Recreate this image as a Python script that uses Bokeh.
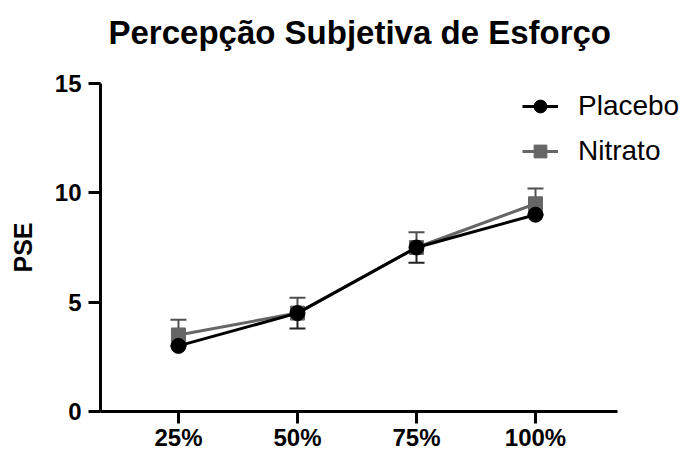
from bokeh.plotting import figure
from bokeh.models import (FixedTicker, Range1d, Legend, LegendItem, Whisker,
                          ColumnDataSource, TeeHead, Title)
from bokeh.embed import file_html
from bokeh.resources import INLINE

# Intensity stages and the perceived-exertion means per condition
stages = ["25%", "50%", "75%", "100%"]
placebo = [3.0, 4.5, 7.5, 9.0]
nitrato = [3.5, 4.5, 7.5, 9.5]
# error bars: nitrato drawn upward, placebo downward
nitrato_sd = [0.7, 0.7, 0.7, 0.7]
placebo_sd = [0.0, 0.7, 0.7, 0.0]

x = list(range(1, len(stages) + 1))

# the frame runs to the right edge so the legend has room; the x axis line
# itself stops short of it through its bounds
x_start, x_axis_end, x_end = 0.345, 4.69, 5.235

p = figure(width=682, height=453, output_backend="svg", toolbar_location=None,
           x_range=Range1d(x_start, x_end), y_range=Range1d(0, 15),
           min_border_left=100, min_border_right=0,
           min_border_top=83, min_border_bottom=40, title_location=None)

# an empty strip between the frame and the heading keeps the heading high
gap = Title(text=" ", text_font_size="1px", standoff=30)
heading = Title(text="Percepção Subjetiva de Esforço", align="left", offset=8,
                standoff=0, text_font="Liberation Sans", text_font_size="33px",
                text_font_style="bold", text_color="black")
p.add_layout(gap, "above")
p.add_layout(heading, "above")

p.outline_line_color = None
p.grid.visible = False
p.background_fill_color = "white"
p.border_fill_color = "white"

for ax in (p.xaxis[0], p.yaxis[0]):
    ax.axis_line_width = 3
    ax.axis_line_color = "black"
    ax.major_tick_line_width = 3
    ax.major_tick_line_color = "black"
    ax.major_tick_out = 12
    ax.major_tick_in = 0
    ax.minor_tick_line_color = None
    ax.major_label_text_font = "Liberation Sans"
    ax.major_label_text_font_size = "24px"
    ax.major_label_text_font_style = "bold"
    ax.major_label_text_color = "black"
    ax.major_label_standoff = 7

p.xaxis.major_label_standoff = 0
p.xaxis.bounds = (x_start, x_axis_end)
p.xaxis.ticker = FixedTicker(ticks=x)
p.xaxis.major_label_overrides = {xi: s for xi, s in zip(x, stages)}
p.yaxis.ticker = FixedTicker(ticks=[0, 5, 10, 15])

p.yaxis.axis_label = "PSE"
p.yaxis.axis_label_text_font = "Liberation Sans"
p.yaxis.axis_label_text_font_size = "25px"
p.yaxis.axis_label_text_font_style = "bold"
p.yaxis.axis_label_text_color = "black"
p.yaxis.axis_label_standoff = 15

nit_src = ColumnDataSource(dict(
    x=x, y=nitrato,
    top=[v + s for v, s in zip(nitrato, nitrato_sd)], base=nitrato))
pla_src = ColumnDataSource(dict(
    x=x, y=placebo,
    low=[v - s for v, s in zip(placebo, placebo_sd)], base=placebo))

gray = "#666666"

nit_err = Whisker(source=nit_src, base="x", upper="top", lower="base",
                  line_color="#505050", line_width=2,
                  upper_head=TeeHead(size=16, line_color="#505050", line_width=2),
                  lower_head=None)
p.add_layout(nit_err)

pla_err = Whisker(source=pla_src, base="x", upper="base", lower="low",
                  line_color="#222222", line_width=2,
                  upper_head=None,
                  lower_head=TeeHead(size=16, line_color="#222222", line_width=2))
p.add_layout(pla_err)

nl = p.line("x", "y", source=nit_src, line_color=gray, line_width=3)
ns = p.scatter("x", "y", source=nit_src, marker="square", size=14,
               fill_color=gray, line_color=gray)
pl = p.line("x", "y", source=pla_src, line_color="black", line_width=3)
ps = p.scatter("x", "y", source=pla_src, marker="circle", size=15,
               fill_color="black", line_color="black")

legend = Legend(items=[LegendItem(label="Placebo", renderers=[pl, ps]),
                       LegendItem(label="Nitrato", renderers=[nl, ns])],
                location=(422, 244), orientation="vertical",
                border_line_color=None, background_fill_alpha=0,
                padding=0, margin=0, spacing=13,
                glyph_width=36, glyph_height=32, label_height=32,
                label_standoff=20,
                label_text_font="Liberation Sans", label_text_font_size="28px",
                label_text_color="black")
p.add_layout(legend, "center")

open("out.html", "w").write(file_html(p, INLINE))
